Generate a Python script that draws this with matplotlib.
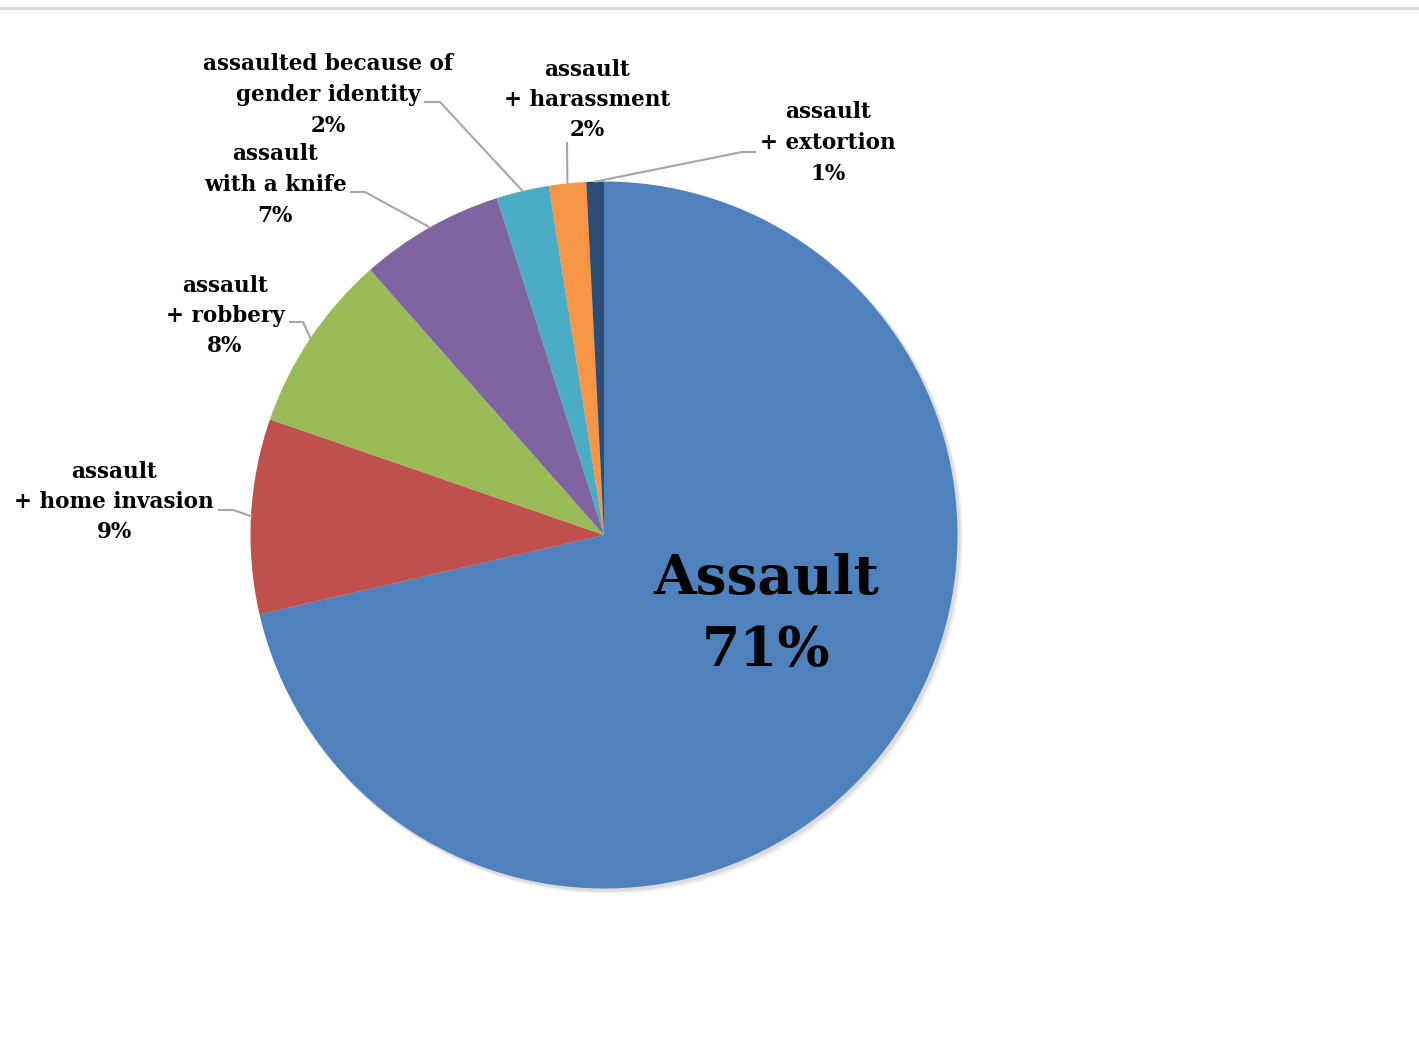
import matplotlib.pyplot as plt
import numpy as np

# share of incidents by type
categories = ["Assault", "assault\n+ home invasion", "assault\n+ robbery",
              "assault\nwith a knife", "assaulted because of\ngender identity",
              "assault\n+ harassment", "assault\n+ extortion"]
shares = [71.4, 8.9, 8.2, 6.6, 2.4, 1.7, 0.8]
colors = ["#4F81BD", "#C0504D", "#9BBB59", "#8064A2", "#4BACC6", "#F79646", "#2C4D75"]

W, H = 1419, 1051
CX, CY, R = 604, H - 535, 353.5

# label centres and leader start/elbow points in image pixels (y down)
label_pos = [(766, 615), (114, 502), (225, 316), (275, 185), (328, 95), (587, 100), (828, 143)]
leader_start = [None, (219, 510), (290, 322), (351, 192), (425, 102), (567, 143), (755, 152)]
leader_elbow = [None, (233, 510), (303, 322), (365, 192), (440, 102), (567, 146), (742, 152)]

plt.rcParams['font.family'] = ['DejaVu Serif']

fig = plt.figure(figsize=(W / 100, H / 100), dpi=100)
ax = fig.add_axes([0, 0, 1, 1])
ax.set_xlim(0, W)
ax.set_ylim(0, H)
ax.set_aspect('equal')
ax.axis('off')

# soft drop shadow
for k, a in enumerate([0.05, 0.04, 0.03, 0.02]):
    ax.add_patch(plt.Circle((CX + 2 + k, CY - 2 - k), R + 1, color='black', alpha=a, lw=0, zorder=0))

wedges, _ = ax.pie(shares, colors=colors, startangle=90, counterclock=False,
                   center=(CX, CY), radius=R, frame=True,
                   wedgeprops=dict(linewidth=0, zorder=1))
ax.set_xlim(0, W)
ax.set_ylim(0, H)
ax.axis('off')

pct = [f"{round(v):.0f}%" for v in shares]

# main slice label
ax.text(label_pos[0][0], H - label_pos[0][1], f"{categories[0]}\n{pct[0]}",
        ha='center', va='center', fontsize=39.5, fontweight='bold', linespacing=1.47, zorder=5)

for i in range(1, len(shares)):
    x, y = label_pos[i]
    ax.text(x, H - y, f"{categories[i]}\n{pct[i]}", ha='center', va='center',
            fontsize=15.5, fontweight='bold', linespacing=1.5, zorder=5)
    w = wedges[i]
    mid = np.deg2rad((w.theta1 + w.theta2) / 2)
    ex, ey = CX + R * np.cos(mid), CY + R * np.sin(mid)
    sx, sy = leader_start[i]
    bx, by = leader_elbow[i]
    ax.plot([sx, bx, ex], [H - sy, H - by, ey], color='#a6a6a6', lw=1.5, zorder=4)

# thin border at the top of the chart area
ax.plot([0, W], [H - 8, H - 8], color='#d9d9d9', lw=2)

fig.savefig("out.png", dpi=100)
